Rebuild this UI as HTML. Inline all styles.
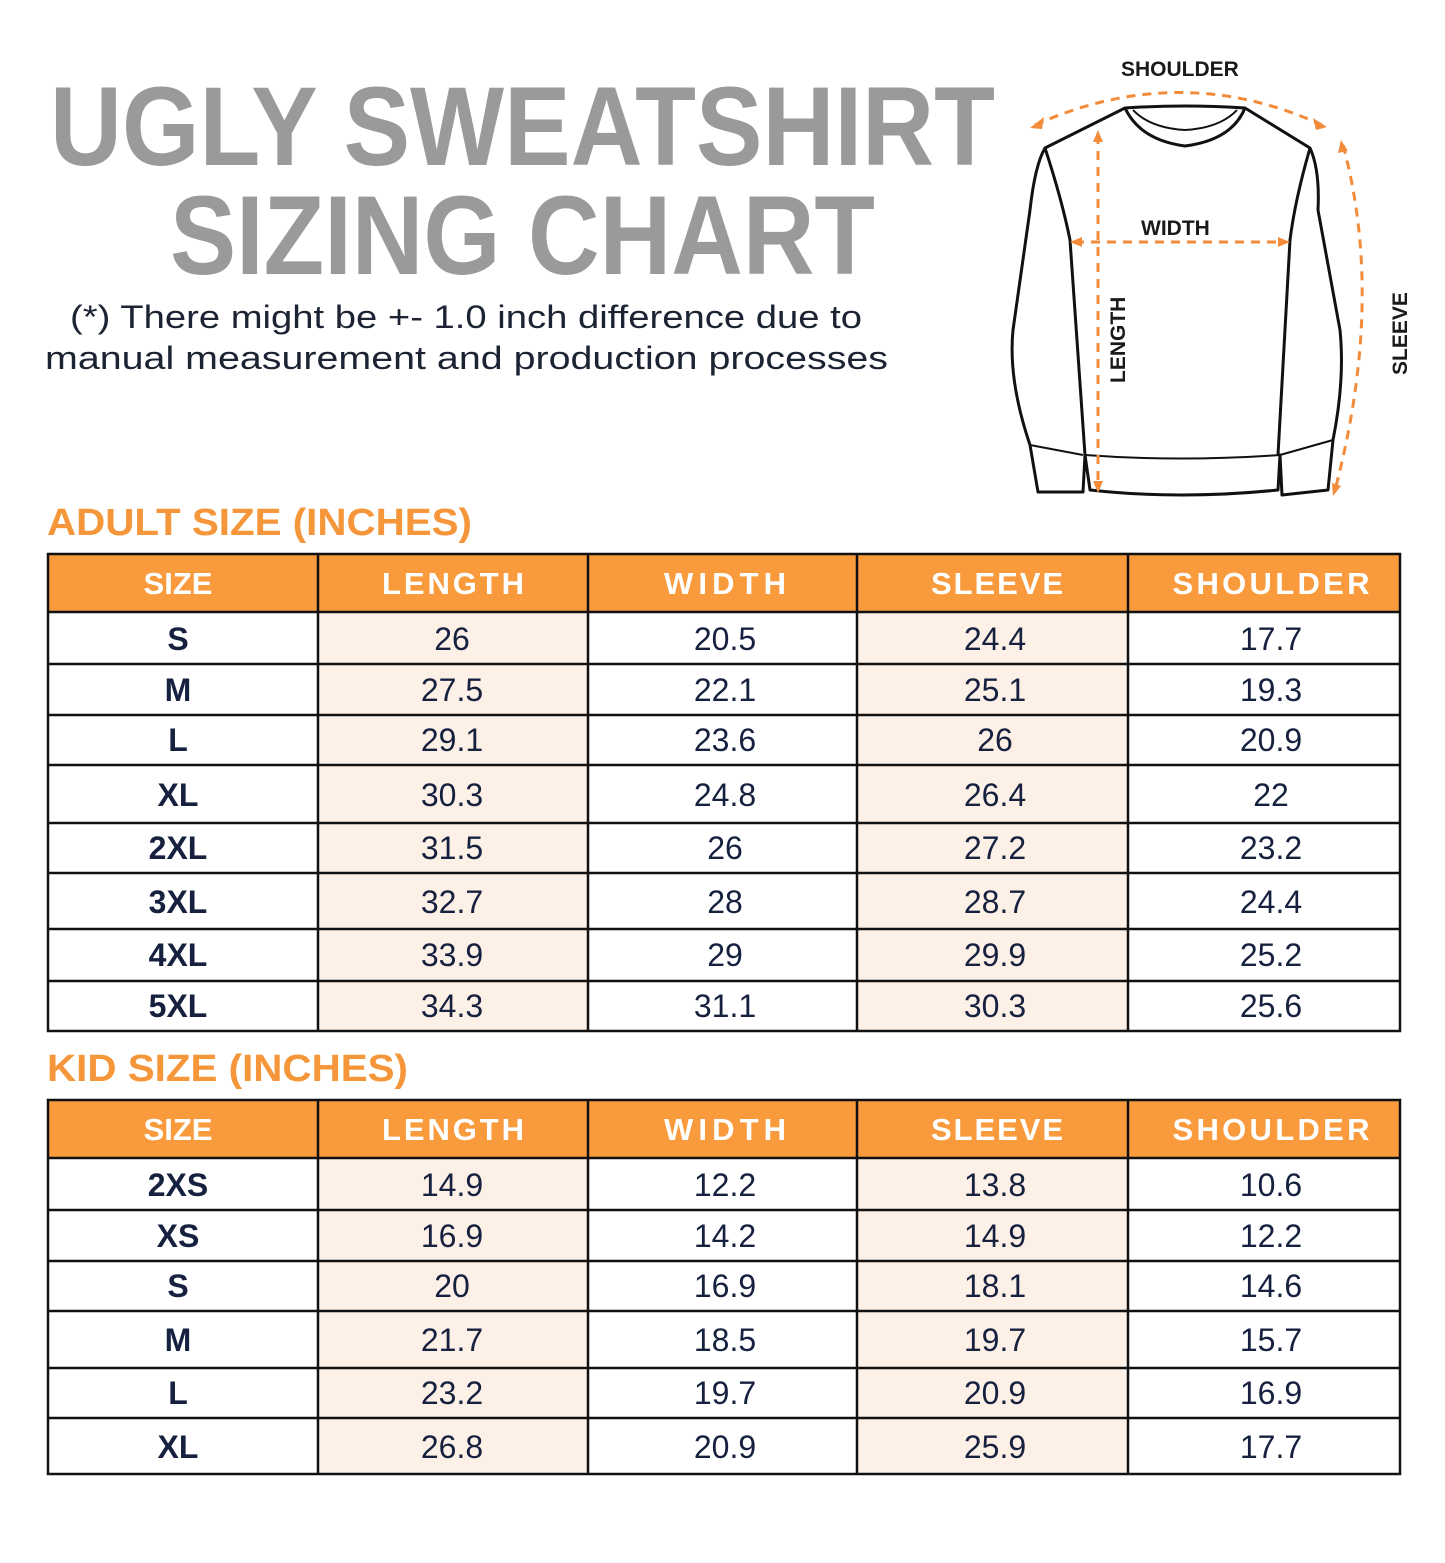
<!DOCTYPE html>
<html><head><meta charset="utf-8"><style>
html,body{margin:0;padding:0;background:#fff;}
svg{display:block}
.t{font-family:"Liberation Sans",sans-serif;font-weight:bold;fill:#9a9a9a}
.s{font-family:"Liberation Sans",sans-serif;fill:#1c2333;font-size:32px}
.h{font-family:"Liberation Sans",sans-serif;font-weight:bold;fill:#fff;font-size:31px;text-anchor:middle}
.sec{font-family:"Liberation Sans",sans-serif;font-weight:bold;fill:#f5963a;font-size:38px}
.k{font-family:"Liberation Sans",sans-serif;font-weight:bold;fill:#16213f;font-size:32px;text-anchor:middle}
.v{font-family:"Liberation Sans",sans-serif;fill:#16213f;font-size:32px;text-anchor:middle}
.d{font-family:"Liberation Sans",sans-serif;font-weight:bold;fill:#1a1a1a;font-size:21px}
</style></head><body>
<svg width="1445" height="1563" viewBox="0 0 1445 1563" xmlns="http://www.w3.org/2000/svg">
<rect width="1445" height="1563" fill="#fff"/>
<text class="t" x="50" y="165" font-size="112" textLength="945" lengthAdjust="spacingAndGlyphs">UGLY SWEATSHIRT</text>
<text class="t" x="170" y="274" font-size="112" textLength="705" lengthAdjust="spacingAndGlyphs">SIZING CHART</text>
<text class="s" x="70" y="328" textLength="792" lengthAdjust="spacingAndGlyphs">(*) There might be +- 1.0 inch difference due to</text>
<text class="s" x="45" y="369" textLength="843" lengthAdjust="spacingAndGlyphs">manual measurement and production processes</text>

<!-- sweatshirt -->
<g fill="none" stroke="#111" stroke-width="3" stroke-linejoin="round">
<path d="M1125,108 Q1185,104 1245,108 L1310,148 Q1320,170 1318,210 L1340,330 Q1345,380 1333,440 L1328,490 L1282,495 L1280,455 L1278,490 Q1180,500 1090,490 L1085,455 L1083,492 L1038,492 L1030,445 Q1008,380 1013,330 L1030,210 Q1035,165 1045,148 Z"/>
<path d="M1125,108 Q1140,140 1185,146 Q1232,140 1245,108"/>
<path d="M1133,110 Q1150,128 1185,130 Q1220,128 1237,110" stroke-width="2"/>
<path d="M1045,148 Q1062,200 1070,240 L1085,455"/>
<path d="M1310,148 Q1295,200 1290,240 L1278,455"/>
<path d="M1085,455 Q1180,462 1280,455" stroke-width="2"/>
<path d="M1030,445 L1083,455 M1333,440 L1280,455" stroke-width="2"/>
</g>
<g fill="none" stroke="#f28b3a" stroke-width="3" stroke-dasharray="9,7">
<path d="M1035,125 Q1180,60 1322,125"/>
<path d="M1098,135 L1098,488"/>
<path d="M1075,242 L1285,242"/>
<path d="M1343,145 Q1385,300 1335,490"/>
</g>
<g fill="#f28b3a">
<polygon points="1030,128 1044,117 1042,129"/>
<polygon points="1327,127 1313,118 1316,130"/>
<polygon points="1098,130 1093,142 1103,142"/>
<polygon points="1098,493 1093,481 1103,481"/>
<polygon points="1070,242 1082,237 1082,247"/>
<polygon points="1290,242 1278,237 1278,247"/>
<polygon points="1341,140 1338,153 1348,151"/>
<polygon points="1333,496 1332,483 1341,486"/>
</g>
<text class="d" x="1121" y="76">SHOULDER</text>
<text class="d" x="1141" y="235">WIDTH</text>
<text class="d" transform="translate(1125,383) rotate(-90)">LENGTH</text>
<text class="d" transform="translate(1407,375) rotate(-90)">SLEEVE</text>

<!-- ADULT -->
<text class="sec" x="47" y="535" textLength="425" lengthAdjust="spacingAndGlyphs">ADULT SIZE (INCHES)</text>
<rect x="48" y="554" width="1352" height="58" fill="#f99b3c"/>
<rect x="318" y="612" width="270" height="419" fill="#fdf0e6"/>
<rect x="857" y="612" width="271" height="419" fill="#fdf0e6"/>
<g stroke="#111" stroke-width="2.5" fill="none">
<rect x="48" y="554" width="1352" height="477"/>
<path d="M318,554V1031M588,554V1031M857,554V1031M1128,554V1031"/>
<path d="M48,612H1400M48,664H1400M48,715H1400M48,765H1400M48,823H1400M48,873H1400M48,929H1400M48,981H1400"/>
</g>
<text class="h" x="178" y="594">SIZE</text><text class="h" x="453" y="594" textLength="142">LENGTH</text><text class="h" x="725" y="594" textLength="122">WIDTH</text><text class="h" x="997" y="594" textLength="132">SLEEVE</text><text class="h" x="1271" y="594" textLength="197">SHOULDER</text>
<g>
<text class="k" x="178" y="650">S</text><text class="v" x="452" y="650">26</text><text class="v" x="725" y="650">20.5</text><text class="v" x="995" y="650">24.4</text><text class="v" x="1271" y="650">17.7</text>
<text class="k" x="178" y="701">M</text><text class="v" x="452" y="701">27.5</text><text class="v" x="725" y="701">22.1</text><text class="v" x="995" y="701">25.1</text><text class="v" x="1271" y="701">19.3</text>
<text class="k" x="178" y="751">L</text><text class="v" x="452" y="751">29.1</text><text class="v" x="725" y="751">23.6</text><text class="v" x="995" y="751">26</text><text class="v" x="1271" y="751">20.9</text>
<text class="k" x="178" y="806">XL</text><text class="v" x="452" y="806">30.3</text><text class="v" x="725" y="806">24.8</text><text class="v" x="995" y="806">26.4</text><text class="v" x="1271" y="806">22</text>
<text class="k" x="178" y="859">2XL</text><text class="v" x="452" y="859">31.5</text><text class="v" x="725" y="859">26</text><text class="v" x="995" y="859">27.2</text><text class="v" x="1271" y="859">23.2</text>
<text class="k" x="178" y="913">3XL</text><text class="v" x="452" y="913">32.7</text><text class="v" x="725" y="913">28</text><text class="v" x="995" y="913">28.7</text><text class="v" x="1271" y="913">24.4</text>
<text class="k" x="178" y="966">4XL</text><text class="v" x="452" y="966">33.9</text><text class="v" x="725" y="966">29</text><text class="v" x="995" y="966">29.9</text><text class="v" x="1271" y="966">25.2</text>
<text class="k" x="178" y="1017">5XL</text><text class="v" x="452" y="1017">34.3</text><text class="v" x="725" y="1017">31.1</text><text class="v" x="995" y="1017">30.3</text><text class="v" x="1271" y="1017">25.6</text>
</g>

<!-- KID -->
<text class="sec" x="47" y="1081" textLength="361" lengthAdjust="spacingAndGlyphs">KID SIZE (INCHES)</text>
<rect x="48" y="1100" width="1352" height="58" fill="#f99b3c"/>
<rect x="318" y="1158" width="270" height="316" fill="#fdf0e6"/>
<rect x="857" y="1158" width="271" height="316" fill="#fdf0e6"/>
<g stroke="#111" stroke-width="2.5" fill="none">
<rect x="48" y="1100" width="1352" height="374"/>
<path d="M318,1100V1474M588,1100V1474M857,1100V1474M1128,1100V1474"/>
<path d="M48,1158H1400M48,1210H1400M48,1261H1400M48,1311H1400M48,1368H1400M48,1418H1400"/>
</g>
<text class="h" x="178" y="1140">SIZE</text><text class="h" x="453" y="1140" textLength="142">LENGTH</text><text class="h" x="725" y="1140" textLength="122">WIDTH</text><text class="h" x="997" y="1140" textLength="132">SLEEVE</text><text class="h" x="1271" y="1140" textLength="197">SHOULDER</text>
<text class="k" x="178" y="1196">2XS</text><text class="v" x="452" y="1196">14.9</text><text class="v" x="725" y="1196">12.2</text><text class="v" x="995" y="1196">13.8</text><text class="v" x="1271" y="1196">10.6</text>
<text class="k" x="178" y="1247">XS</text><text class="v" x="452" y="1247">16.9</text><text class="v" x="725" y="1247">14.2</text><text class="v" x="995" y="1247">14.9</text><text class="v" x="1271" y="1247">12.2</text>
<text class="k" x="178" y="1297">S</text><text class="v" x="452" y="1297">20</text><text class="v" x="725" y="1297">16.9</text><text class="v" x="995" y="1297">18.1</text><text class="v" x="1271" y="1297">14.6</text>
<text class="k" x="178" y="1351">M</text><text class="v" x="452" y="1351">21.7</text><text class="v" x="725" y="1351">18.5</text><text class="v" x="995" y="1351">19.7</text><text class="v" x="1271" y="1351">15.7</text>
<text class="k" x="178" y="1404">L</text><text class="v" x="452" y="1404">23.2</text><text class="v" x="725" y="1404">19.7</text><text class="v" x="995" y="1404">20.9</text><text class="v" x="1271" y="1404">16.9</text>
<text class="k" x="178" y="1458">XL</text><text class="v" x="452" y="1458">26.8</text><text class="v" x="725" y="1458">20.9</text><text class="v" x="995" y="1458">25.9</text><text class="v" x="1271" y="1458">17.7</text>
</svg>
</body></html>
